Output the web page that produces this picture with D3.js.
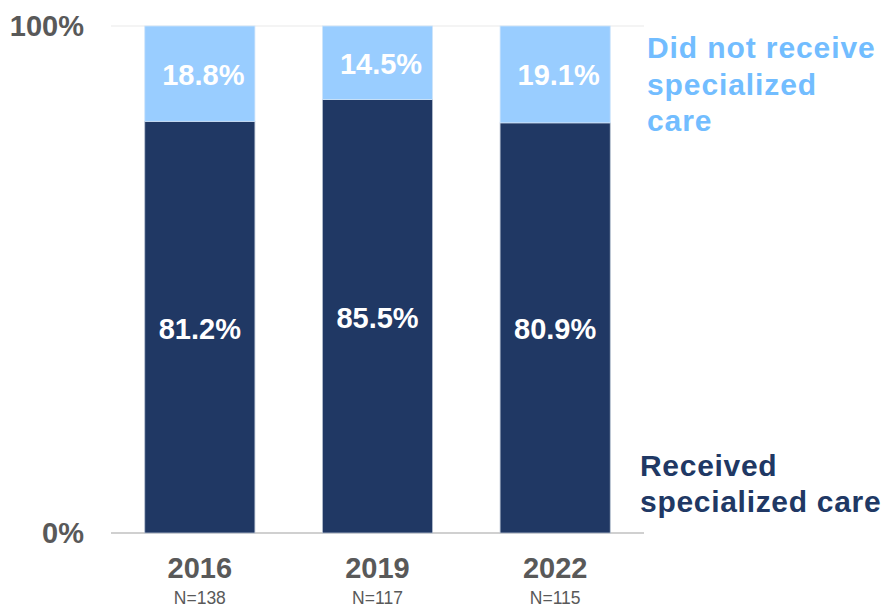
<!DOCTYPE html>
<html>
<head>
<meta charset="utf-8">
<script src="https://cdn.jsdelivr.net/npm/d3@7"></script>
<style>
  html, body { margin: 0; padding: 0; background: #fff; }
  svg { display: block; font-family: "Liberation Sans", Arial, sans-serif; }
</style>
</head>
<body>
<svg id="chart" width="886" height="610"></svg>
<script>
// Share of patients who received specialized care, by survey year
const years = ["2016", "2019", "2022"];
const sampleSizes = ["N=138", "N=117", "N=115"];
const received = [81.2, 85.5, 80.9];
const notReceived = [18.8, 14.5, 19.1];
const yTicks = [0, 100];

const svg = d3.select("#chart");
const x = d3.scaleBand().domain(years).range([111, 644]).paddingInner(0.38).paddingOuter(0.19);
const y = d3.scaleLinear().domain([0, 100]).range([533, 26]);

const darkBlue = "#203864";
const lightBlue = "#99cdff";
const lightText = "#72bdff";
const grey = "#595959";

// gridlines at 0% and 100%
svg.append("g").selectAll("line").data(yTicks).join("line")
  .attr("x1", 111).attr("x2", 644)
  .attr("y1", d => y(d)).attr("y2", d => y(d))
  .attr("stroke", d => d === 0 ? "#d0d0d0" : "#f0f0f0")
  .attr("stroke-width", d => d === 0 ? 2 : 1.5);

// y tick labels
svg.append("g").selectAll("text").data(yTicks).join("text")
  .attr("x", 84).attr("y", d => y(d) + 10)
  .attr("text-anchor", "end")
  .attr("font-size", 29).attr("font-weight", "bold").attr("fill", grey)
  .text(d => d + "%");

const rows = years.map((yr, i) => ({ yr, rec: received[i], not: notReceived[i], n: sampleSizes[i] }));

// received segment (bottom)
svg.append("g").selectAll("rect").data(rows).join("rect")
  .attr("x", d => x(d.yr)).attr("width", x.bandwidth())
  .attr("y", d => y(d.rec)).attr("height", d => y(0) - y(d.rec))
  .attr("fill", darkBlue).attr("stroke", "#b8c2d2").attr("stroke-width", 0.8);

// did-not-receive segment (top)
svg.append("g").selectAll("rect").data(rows).join("rect")
  .attr("x", d => x(d.yr)).attr("width", x.bandwidth())
  .attr("y", d => y(d.rec + d.not)).attr("height", d => y(d.rec) - y(d.rec + d.not))
  .attr("fill", lightBlue).attr("stroke", "#cfe5fb").attr("stroke-width", 0.8);

// value labels
const cx = d => x(d.yr) + x.bandwidth() / 2;
svg.append("g").selectAll("text").data(rows).join("text")
  .attr("x", cx).attr("y", d => (y(d.rec) + y(0)) / 2 + 11.5)
  .attr("text-anchor", "middle").attr("font-size", 29).attr("font-weight", "bold").attr("fill", "#fff")
  .text(d => d.rec.toFixed(1) + "%");
svg.append("g").selectAll("text").data(rows).join("text")
  .attr("x", d => cx(d) + 3.5).attr("y", d => (y(d.rec) + y(d.rec + d.not)) / 2 + 11)
  .attr("text-anchor", "middle").attr("font-size", 29).attr("font-weight", "bold").attr("fill", "#fff")
  .text(d => d.not.toFixed(1) + "%");

// category labels
svg.append("g").selectAll("text").data(rows).join("text")
  .attr("x", cx).attr("y", 578)
  .attr("text-anchor", "middle").attr("font-size", 29).attr("font-weight", "bold").attr("fill", grey)
  .text(d => d.yr);
svg.append("g").selectAll("text").data(rows).join("text")
  .attr("x", cx).attr("y", 604)
  .attr("text-anchor", "middle").attr("font-size", 17.5).attr("fill", grey)
  .text(d => d.n);

// series labels
const notLines = ["Did not receive", "specialized", "care"];
svg.append("text").attr("x", 647).attr("y", 58)
  .attr("font-size", 30).attr("font-weight", "bold").attr("fill", lightText)
  .attr("letter-spacing", 0.9)
  .selectAll("tspan").data(notLines).join("tspan")
  .attr("x", 647).attr("dy", (d, i) => i === 0 ? 0 : 36.5).text(d => d);

const recLines = ["Received", "specialized care"];
svg.append("text").attr("x", 640).attr("y", 476)
  .attr("font-size", 30).attr("font-weight", "bold").attr("fill", darkBlue)
  .attr("letter-spacing", 0.7)
  .selectAll("tspan").data(recLines).join("tspan")
  .attr("x", 640).attr("dy", (d, i) => i === 0 ? 0 : 35.5).text(d => d);
</script>
</body>
</html>
